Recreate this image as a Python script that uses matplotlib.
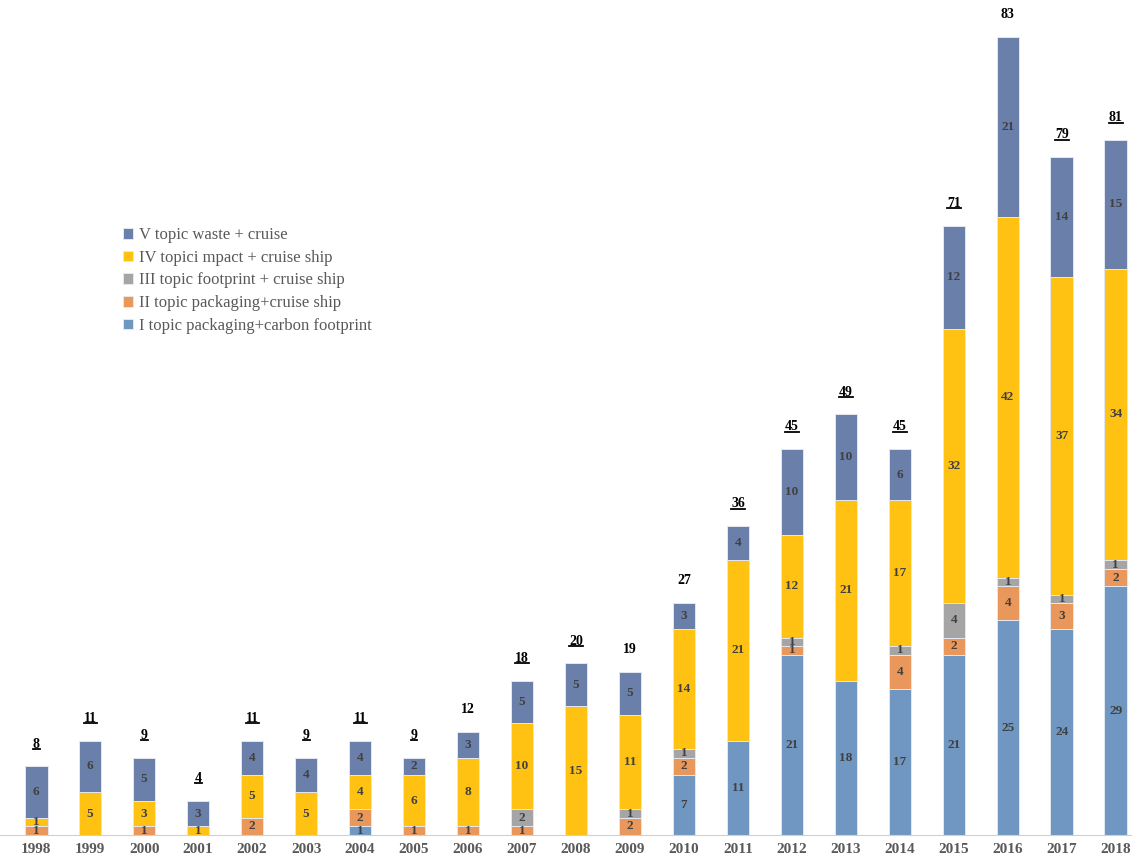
import numpy as np
import matplotlib.pyplot as plt
from matplotlib.lines import Line2D

years = [str(y) for y in range(1998, 2019)]

topic_1 = [0, 0, 0, 0, 0, 0, 1, 0, 0, 0, 0, 0, 7, 11, 21, 18, 17, 21, 25, 24, 29]
topic_2 = [1, 0, 1, 0, 2, 0, 2, 1, 1, 1, 0, 2, 2, 0, 1, 0, 4, 2, 4, 3, 2]
topic_3 = [0, 0, 0, 0, 0, 0, 0, 0, 0, 2, 0, 1, 1, 0, 1, 0, 1, 4, 1, 1, 1]
topic_4 = [1, 5, 3, 1, 5, 5, 4, 6, 8, 10, 15, 11, 14, 21, 12, 21, 17, 32, 42, 37, 34]
topic_5 = [6, 6, 5, 3, 4, 4, 4, 2, 3, 5, 5, 5, 3, 4, 10, 10, 6, 12, 21, 14, 15]

totals = [8, 11, 9, 4, 11, 9, 11, 9, 12, 18, 20, 19, 27, 36, 45, 49, 45, 71, 83, 79, 81]
underlined = [True, True, True, True, True, True, True, True, False, True, True,
              False, False, True, True, True, True, True, False, True, True]

series = [
    ('I topic packaging+carbon footprint', topic_1, '#7097C2'),
    ('II topic packaging+cruise ship', topic_2, '#E9975A'),
    ('III topic footprint + cruise ship', topic_3, '#A5A5A5'),
    ('IV topici mpact + cruise ship', topic_4, '#FFC212'),
    ('V topic waste + cruise', topic_5, '#6A7FAA'),
]

plt.rcParams['font.family'] = 'Liberation Serif'

fig = plt.figure(figsize=(11.32, 8.56), dpi=100)
ax = fig.add_axes([0, 21 / 856, 1, 835 / 856])

x = np.arange(len(years))
bottom = np.zeros(len(years))
handles = []
for name, vals, color in series:
    vals = np.array(vals, dtype=float)
    bars = ax.bar(x, vals, 0.42, bottom=bottom, color=color,
                  edgecolor='#e3e8f0', linewidth=0.7, label=name)
    handles.append(bars)
    for xi, v, b in zip(x, vals, bottom):
        if v > 0:
            ax.text(xi, b + v / 2, f'{int(v)}', ha='center', va='center',
                    fontsize=9.5, fontweight='bold', color='#404040')
    bottom += vals

ax.set_xlim(-0.67, 20.3)
ax.set_ylim(0, 97.3)

label_texts = []
for xi, top, t in zip(x, bottom, totals):
    y = min(top + 2.6, 95.9)
    txt = ax.text(xi, y, str(t), ha='center', va='center',
                  fontsize=10, fontweight='bold', color='black')
    label_texts.append(txt)

for s in ['left', 'right', 'top']:
    ax.spines[s].set_visible(False)
ax.spines['bottom'].set_color('#d0d0d0')
ax.set_yticks([])
ax.set_xticks(x)
ax.set_xticklabels(years, fontsize=11, fontweight='bold', color='#595959')
ax.tick_params(axis='x', length=0, pad=6)

leg = ax.legend(handles[::-1], [s[0] for s in series][::-1],
                loc='upper left', bbox_to_anchor=(0.095, 0.746), frameon=False,
                fontsize=12, labelcolor='#595959', handlelength=0.6,
                handleheight=0.6, handletextpad=0.4, labelspacing=0.4)

# underline the marked totals
fig.canvas.draw()
renderer = fig.canvas.get_renderer()
for txt, u in zip(label_texts, underlined):
    if u:
        bb = txt.get_window_extent(renderer)
        yline = bb.y0 + 1.5
        fig.add_artist(Line2D([bb.x0 / 1132, bb.x1 / 1132],
                              [yline / 856, yline / 856],
                              color='black', linewidth=1.3))

fig.savefig('out.png', dpi=100)
